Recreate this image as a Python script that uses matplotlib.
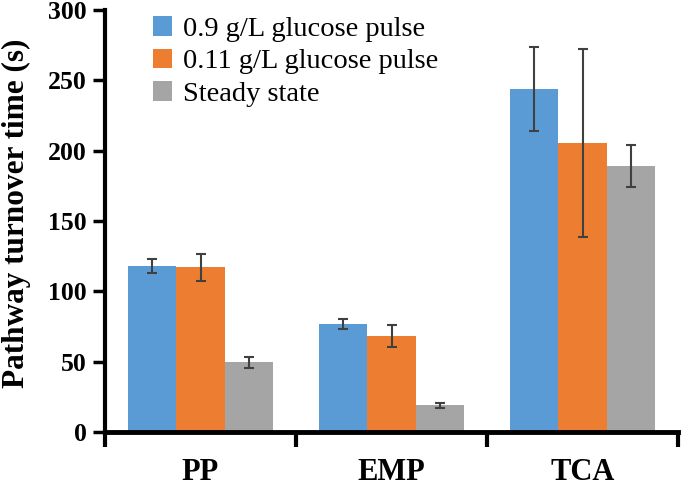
import matplotlib.pyplot as plt
import numpy as np

categories = ["PP", "EMP", "TCA"]
series = ["0.9 g/L glucose pulse", "0.11 g/L glucose pulse", "Steady state"]
pulse_09 = [118, 76.5, 244]
pulse_09_err = [5.2, 3.5, 29.8]
pulse_011 = [117, 68, 205.5]
pulse_011_err = [9.6, 7.8, 67]
steady = [49.5, 19, 189]
steady_err = [4, 1.7, 14.7]

colors = ["#5B9BD5", "#ED7D31", "#A5A5A5"]

plt.rcParams['font.family'] = ['Liberation Serif', 'DejaVu Serif']

fig = plt.figure(figsize=(6.85, 4.87), dpi=100)
ax = fig.add_axes([0.1533, 0.1129, 0.9898 - 0.1533, 0.9795 - 0.1129])

x = np.arange(len(categories))
w = 0.254
values = [pulse_09, pulse_011, steady]
errors = [pulse_09_err, pulse_011_err, steady_err]
for i in range(3):
    ax.bar(x + (i - 1) * w, values[i], w, color=colors[i], label=series[i],
           yerr=errors[i], capsize=3.5,
           error_kw=dict(ecolor="#404040", elinewidth=1.5, capthick=1.5))

ax.set_xlim(-0.5, 2.5)
ax.set_ylim(0, 300)
ax.set_yticks(np.arange(0, 301, 50))
ax.set_xticks([-0.5, 0.5, 1.5, 2.5])
ax.set_xticklabels([])
ax.set_xticks(x, minor=True)
ax.set_xticklabels(categories, minor=True, fontsize=22, fontweight="bold")
ax.tick_params(axis="x", which="major", direction="out", length=11, width=3)
ax.tick_params(axis="x", which="minor", length=0, pad=19)
ax.tick_params(axis="y", direction="out", length=9, width=2.5, labelsize=18.5, pad=4)
for lab in ax.get_yticklabels():
    lab.set_fontweight("bold")

ax.spines["top"].set_visible(False)
ax.spines["right"].set_visible(False)
ax.spines["left"].set_linewidth(3)
ax.spines["bottom"].set_linewidth(3.5)

ax.set_ylabel("Pathway turnover time (s)", fontsize=22.5, fontweight="bold")
ax.yaxis.set_label_coords(-0.129, 0.519)

ax.legend(loc="upper left", bbox_to_anchor=(0.083, 0.985), frameon=False, fontsize=20.5,
          handlelength=0.67, handleheight=0.67, handletextpad=0.4, labelspacing=0.24,
          borderaxespad=0, borderpad=0)

fig.savefig("out.png", dpi=100)
